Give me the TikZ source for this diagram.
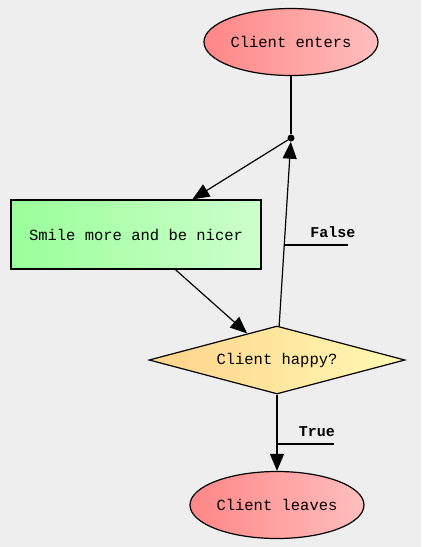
\documentclass[tikz,border=0pt]{standalone}
\usepackage{fontspec}
\setmonofont{Liberation Mono}
\usetikzlibrary{shapes.geometric,arrows.meta}
\definecolor{bgc}{HTML}{EEEEEE}
\definecolor{redL}{HTML}{FF8686}
\definecolor{redR}{HTML}{FFBEBE}
\definecolor{grnL}{HTML}{99FF99}
\definecolor{grnR}{HTML}{CCFFCC}
\definecolor{yelL}{HTML}{FFD28A}
\definecolor{yelR}{HTML}{FFFAB4}
\tikzset{
  lbl/.style={font=\ttfamily\fontsize{15.5}{17}\selectfont, text=black},
  term/.style={ellipse, draw, line width=1.2pt, inner sep=0pt, minimum width=174pt, minimum height=67pt, left color=redL, right color=redR, lbl},
  act/.style={rectangle, draw, line width=1.2pt, inner sep=0pt, minimum width=250pt, minimum height=69pt, left color=grnL, right color=grnR, lbl},
  dec/.style={diamond, draw, line width=1.2pt, inner sep=0pt, aspect=3.76, minimum width=256pt, minimum height=68pt, left color=yelL, right color=yelR, lbl},
  edge/.style={draw, line width=1.2pt, -{Triangle[length=17pt,width=14pt]}},
  elbl/.style={font=\ttfamily\bfseries\fontsize{15}{17}\selectfont, text=black},
  lead/.style={line width=1.2pt},
}
\begin{document}
\begin{tikzpicture}[x=1pt,y=-1pt]
\fill[bgc] (0,0) rectangle (421,547);
\useasboundingbox (0,0) rectangle (421,547);
\node[term] (enter) at (291,42) {Client enters};
\node[circle, fill=black, inner sep=0pt, minimum size=7pt] (dot) at (291,138) {};
\node[act] (smile) at (136,234.5) {Smile more and be nicer};
\node[dec] (happy) at (277,360) {Client happy?};
\node[term] (leave) at (277,505) {Client leaves};
\draw[lead] (enter) -- (dot);
\draw[edge] (dot) -- (smile);
\draw[edge] (smile) -- (happy);
\draw[edge] (happy) -- (dot);
\draw[edge] (happy) -- (leave);
\coordinate (fl) at (283.5,245);
\coordinate (fr) at (348,245);
\draw[lead] (fl) -- (fr);
\node[elbl] (false) at (333,232) {False};
\coordinate (tl) at (277,444);
\coordinate (tr) at (334,444);
\draw[lead] (tl) -- (tr);
\node[elbl] (true) at (317,432) {True};
\end{tikzpicture}
\end{document}
